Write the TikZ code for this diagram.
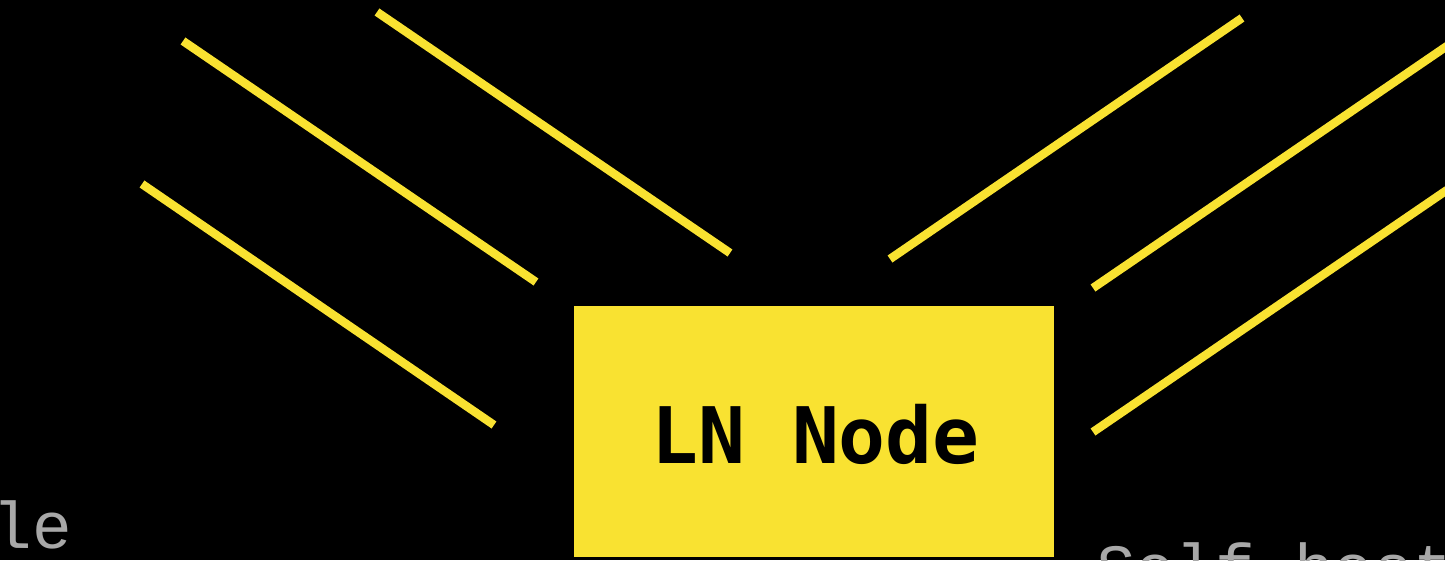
\documentclass[tikz,border=0pt]{standalone}
\usepackage{fontspec}
\setmonofont{DejaVu Sans Mono}
\newfontfamily\greymono{Liberation Mono}
\definecolor{lnyellow}{HTML}{F9E231}
\definecolor{lngrey}{HTML}{A8A8A8}
\begin{document}
\begin{tikzpicture}[x=1pt,y=-1pt,
  ray/.style={draw=lnyellow,line width=8.5pt},
  boxnode/.style={fill=lnyellow,draw=none,inner sep=0pt,minimum width=480pt,minimum height=251pt},
  bigtext/.style={inner sep=0pt,font=\ttfamily\bfseries\fontsize{78}{80}\selectfont,text=black},
  greytext/.style={inner sep=0pt,font=\greymono\fontsize{66}{68}\selectfont,text=lngrey}]
\fill[black] (0,0) rectangle (1445,560);
\useasboundingbox (0,0) rectangle (1445,560);
\clip (0,0) rectangle (1445,560);
% central node
\node[boxnode] (ln) at (814,431.5) {};
\node[bigtext,anchor=base] (lnlabel) at (815.5,463) {LN Node};
% side labels
\node[greytext,anchor=base east] (leftlabel) at (72,548) {le};
\node[greytext,anchor=base west] (rightlabel) at (1096,590) {Self-host};
% ray end points
\coordinate (a1) at (183,41);   \coordinate (b1) at (536,282);
\coordinate (a2) at (377,12);   \coordinate (b2) at (730,253);
\coordinate (a3) at (142,184);  \coordinate (b3) at (494,425);
\coordinate (a4) at (1242,18);  \coordinate (b4) at (890,259);
\coordinate (a5) at (1447,46);  \coordinate (b5) at (1093,288);
\coordinate (a6) at (1447,190); \coordinate (b6) at (1093,432);
\draw[ray] (a1) -- (b1);
\draw[ray] (a2) -- (b2);
\draw[ray] (a3) -- (b3);
\draw[ray] (a4) -- (b4);
\draw[ray] (a5) -- (b5);
\draw[ray] (a6) -- (b6);
\end{tikzpicture}
\end{document}
